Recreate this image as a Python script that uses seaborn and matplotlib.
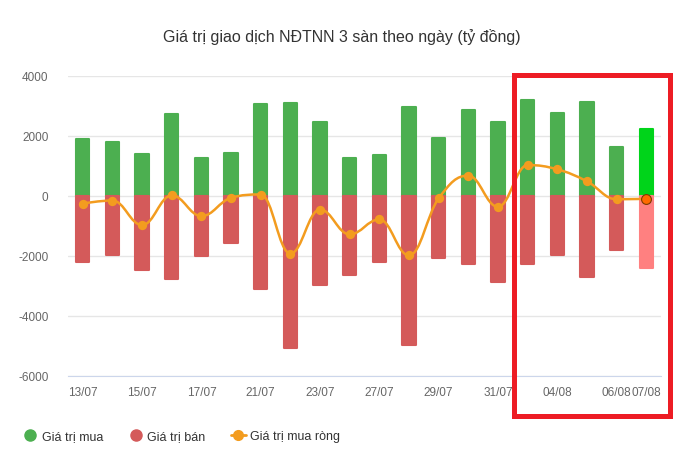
import numpy as np
import matplotlib
matplotlib.use("Agg")
import matplotlib.pyplot as plt
import seaborn as sns
from matplotlib.path import Path
from matplotlib.patches import PathPatch, Rectangle
from matplotlib.lines import Line2D

# data (ty dong)
dates = ["13/07", "14/07", "15/07", "16/07", "17/07", "20/07", "21/07", "22/07",
         "23/07", "24/07", "27/07", "28/07", "29/07", "30/07", "31/07", "03/08",
         "04/08", "05/08", "06/08", "07/08"]
buy = [1900, 1790, 1400, 2740, 1260, 1420, 3070, 3100, 2470, 1260,
       1360, 2960, 1930, 2870, 2470, 3200, 2770, 3140, 1630, 2250]
sell = [-2200, -1970, -2450, -2780, -2000, -1580, -3090, -5080, -2970, -2620,
        -2200, -4980, -2080, -2250, -2870, -2250, -1950, -2700, -1810, -2390]
net = [-250, -150, -970, 20, -670, -60, 50, -1920, -450, -1280,
       -780, -1980, -80, 680, -360, 1030, 890, 490, -110, -90]
shown_ticks = ["13/07", "15/07", "17/07", "21/07", "23/07", "27/07",
               "29/07", "31/07", "04/08", "06/08", "07/08"]

GREEN = "#4caf50"
RED = "#d45a5a"
ORANGE = "#f39c1f"

sns.set_style("white")
plt.rcParams["font.family"] = ["Liberation Sans", "DejaVu Sans"]

fig = plt.figure(figsize=(6.92, 4.6), dpi=100)
ax = fig.add_axes([68 / 692, 1 - 377 / 460, 593 / 692, 300 / 460])

buy_cols = [GREEN] * (len(dates) - 1) + ["#00d41a"]
sell_cols = [RED] * (len(dates) - 1) + ["#ff8080"]

sns.barplot(x=dates, y=buy, hue=dates, palette=buy_cols, legend=False,
            width=0.45, ax=ax, saturation=1)
sns.barplot(x=dates, y=sell, hue=dates, palette=sell_cols, legend=False,
            width=0.45, ax=ax, saturation=1)
for p in ax.patches:
    p.set_edgecolor(p.get_facecolor())
    p.set_linewidth(1.5)
    p.set_joinstyle("round")

# smooth line (spline through the points, like the web chart)
xs = np.arange(len(net), dtype=float)
ys = np.array(net, dtype=float)
n = len(xs)
left_c = [(xs[0], ys[0])] * n
right_c = [(xs[0], ys[0])] * n
for i in range(n):
    if i == 0 or i == n - 1:
        left_c[i] = (xs[i], ys[i])
        right_c[i] = (xs[i], ys[i])
        continue
    lx = (1.5 * xs[i] + xs[i - 1]) / 2.5
    ly = (1.5 * ys[i] + ys[i - 1]) / 2.5
    rx = (1.5 * xs[i] + xs[i + 1]) / 2.5
    ry = (1.5 * ys[i] + ys[i + 1]) / 2.5
    corr = ((ry - ly) * (rx - xs[i])) / (rx - lx) + ys[i] - ry
    ly += corr
    ry += corr
    if ly > max(ys[i - 1], ys[i]):
        ly = max(ys[i - 1], ys[i])
        ry = 2 * ys[i] - ly
    elif ly < min(ys[i - 1], ys[i]):
        ly = min(ys[i - 1], ys[i])
        ry = 2 * ys[i] - ly
    if ry > max(ys[i + 1], ys[i]):
        ry = max(ys[i + 1], ys[i])
        ly = 2 * ys[i] - ry
    elif ry < min(ys[i + 1], ys[i]):
        ry = min(ys[i + 1], ys[i])
        ly = 2 * ys[i] - ry
    left_c[i] = (lx, ly)
    right_c[i] = (rx, ry)

verts = [(xs[0], ys[0])]
codes = [Path.MOVETO]
for i in range(1, n):
    verts += [right_c[i - 1], left_c[i], (xs[i], ys[i])]
    codes += [Path.CURVE4] * 3
ax.add_patch(PathPatch(Path(verts, codes), fill=False, edgecolor=ORANGE,
                       linewidth=1.8, zorder=4))
sns.scatterplot(x=xs[:-1], y=ys[:-1], color=ORANGE, s=45, edgecolor=ORANGE,
                linewidth=0, zorder=5, ax=ax)
ax.scatter([xs[-1]], [ys[-1]], s=50, color="#ff6a00", edgecolor="#7a3a00",
           linewidth=0.8, zorder=6)

ax.set_xlim(-0.5, len(dates) - 0.5)
ax.set_ylim(-6000, 4000)
ax.set_yticks([-6000, -4000, -2000, 0, 2000, 4000])
ax.set_yticklabels(["-6000", "-4000", "-2000", "0", "2000", "4000"])
ax.set_xticks([dates.index(d) for d in shown_ticks])
ax.set_xticklabels(shown_ticks)
ax.tick_params(axis="both", length=0, labelsize=8.5, colors="#666666")
ax.tick_params(axis="x", pad=7)
ax.tick_params(axis="y", pad=14)
ax.grid(axis="y", color="#e6e6e6", linewidth=1)
ax.set_axisbelow(True)
for s in ["top", "right", "left"]:
    ax.spines[s].set_visible(False)
ax.spines["bottom"].set_color("#ccd6eb")
ax.set_xlabel("")
ax.set_ylabel("")

fig.text(342 / 692, 1 - 37 / 460, "Giá trị giao dịch NĐTNN 3 sàn theo ngày (tỷ đồng)",
         ha="center", va="center", fontsize=11.5, color="#333333")

handles = [
    Line2D([], [], marker="o", linestyle="none", color=GREEN, markersize=8),
    Line2D([], [], marker="o", linestyle="none", color=RED, markersize=8),
    Line2D([], [], marker="o", color=ORANGE, markersize=7, linewidth=2),
]
fig.legend(handles, ["Giá trị mua", "Giá trị bán", "Giá trị mua ròng"],
           loc="center left", bbox_to_anchor=(11 / 692, 1 - 437 / 460), ncol=3,
           frameon=False, fontsize=9, labelcolor="#333333", handlelength=1.25,
           handletextpad=0.3, columnspacing=2.0)

fig.add_artist(Rectangle((513.5 / 692, 1 - 417 / 460), 156 / 692, 341.5 / 460,
                         transform=fig.transFigure, fill=False,
                         edgecolor="#ed1c24", linewidth=3.6, zorder=10))

fig.savefig("out.png", dpi=100)
